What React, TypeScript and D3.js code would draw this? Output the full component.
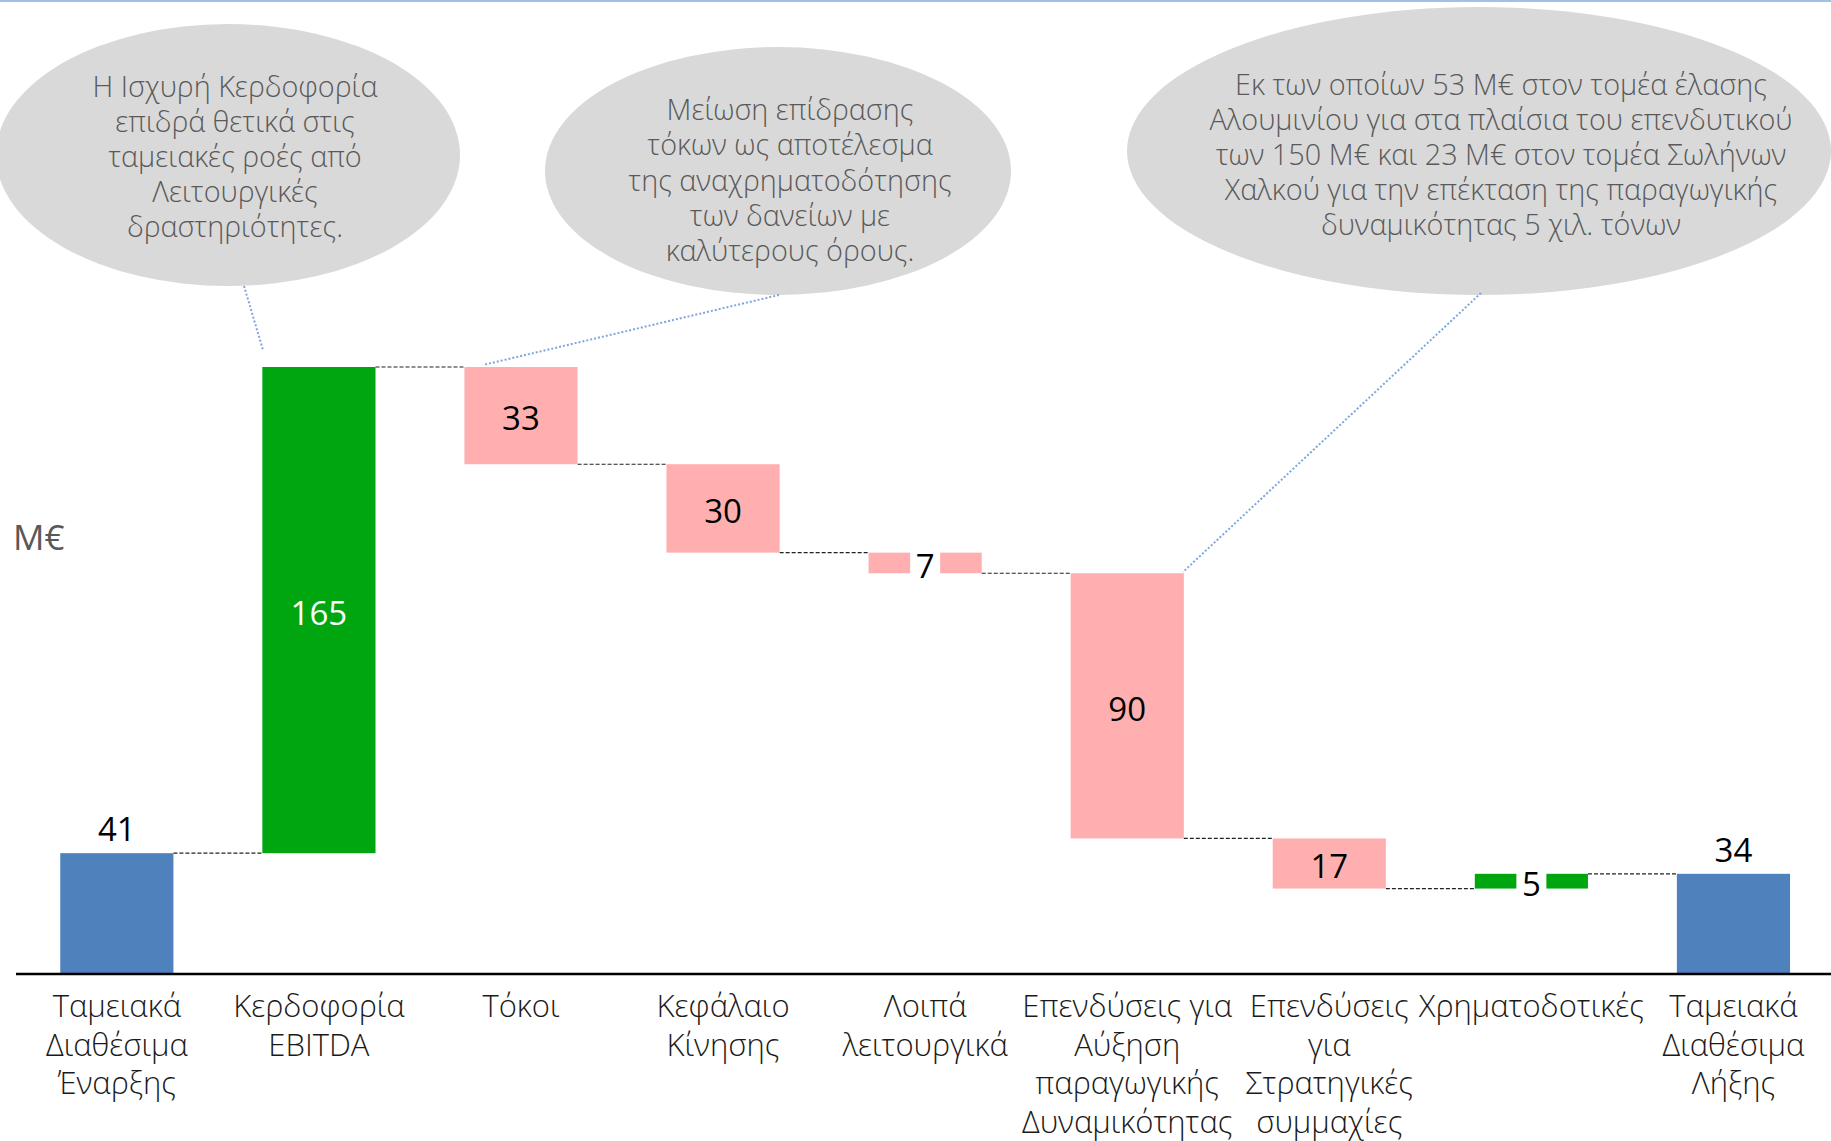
import React from "react";
import * as d3 from "d3";

const categories: string[][] = [
  ["Ταμειακά", "Διαθέσιμα", "Έναρξης"],
  ["Κερδοφορία", "EBITDA"],
  ["Τόκοι"],
  ["Κεφάλαιο", "Κίνησης"],
  ["Λοιπά", "λειτουργικά"],
  ["Επενδύσεις για", "Αύξηση", "παραγωγικής", "Δυναμικότητας"],
  ["Επενδύσεις", "για", "Στρατηγικές", "συμμαχίες"],
  ["Χρηματοδοτικές"],
  ["Ταμειακά", "Διαθέσιμα", "Λήξης"],
];
const values: number[] = [41, 165, -33, -30, -7, -90, -17, 5, 34];
const kinds: string[] = ["total", "delta", "delta", "delta", "delta", "delta", "delta", "delta", "total"];
const unitLabel = "Μ€";

const callout1: string[] = [
  "Η Ισχυρή Κερδοφορία",
  "επιδρά θετικά στις",
  "ταμειακές ροές από",
  "Λειτουργικές",
  "δραστηριότητες.",
];
const callout2: string[] = [
  "Μείωση επίδρασης",
  "τόκων ως αποτέλεσμα",
  "της αναχρηματοδότησης",
  "των δανείων με",
  "καλύτερους όρους.",
];
const callout3: string[] = [
  "Εκ των οποίων 53 Μ€ στον τομέα έλασης",
  "Αλουμινίου για στα πλαίσια του επενδυτικού",
  "των 150 Μ€ και 23 Μ€ στον τομέα Σωλήνων",
  "Χαλκού για την επέκταση της παραγωγικής",
  "δυναμικότητας 5 χιλ. τόνων",
];

const W = 1831;
const H = 1141;
const BLUE = "#4F81BD";
const GREEN = "#00A60F";
const PINK = "#FFAFAF";
const ELLIPSE = "#D9D9D9";
const CALLOUT_TEXT = "#595959";
const DOT = "#7EA6DE";
const FONT = "'Open Sans', 'Noto Sans', sans-serif";

export default function App() {
  const idx = categories.map((_, i) => String(i));
  const x = d3
    .scaleBand<string>()
    .domain(idx)
    .range([15.8, 1834.5])
    .paddingInner(0.44)
    .paddingOuter(0.22);
  const y = d3.scaleLinear().domain([0, 206]).range([974, 367]);
  const bw = x.bandwidth();

  let run = 0;
  const bars = values.map((v, i) => {
    let y0: number, y1: number, fill: string;
    if (kinds[i] === "total") {
      y0 = 0;
      y1 = v;
      run = v;
      fill = BLUE;
    } else {
      y0 = run;
      y1 = run + v;
      run = y1;
      fill = v >= 0 ? GREEN : PINK;
    }
    return { i, v, lo: Math.min(y0, y1), hi: Math.max(y0, y1), end: y1, fill, kind: kinds[i] };
  });

  const fontSize = 33;

  return (
    <svg
      width={W}
      height={H}
      style={{ position: "absolute", left: 0, top: 0, background: "#fff" }}
      fontFamily={FONT}
    >
      <line x1={0} x2={W} y1={1} y2={1} stroke="#9DC3E6" strokeWidth={2} />

      <ellipse cx={228} cy={155} rx={232} ry={131} fill={ELLIPSE} />
      <ellipse cx={778} cy={171} rx={233} ry={124} fill={ELLIPSE} />
      <ellipse cx={1479} cy={151} rx={352} ry={144} fill={ELLIPSE} />
      <line x1={244} y1={286} x2={263} y2={350} stroke={DOT} strokeWidth={2} strokeDasharray="2 2" />
      <line x1={779} y1={295} x2={483} y2={365} stroke={DOT} strokeWidth={2} strokeDasharray="2 2" />
      <line x1={1481} y1={293} x2={1183} y2={572} stroke={DOT} strokeWidth={2} strokeDasharray="2 2" />
      <g fill={CALLOUT_TEXT} fontSize={28.8} fontWeight={300} textAnchor="middle">
        {callout1.map((t, k) => (
          <text key={k} x={235} y={97 + k * 35}>{t}</text>
        ))}
        {callout2.map((t, k) => (
          <text key={k} x={790} y={120 + k * 35.3}>{t}</text>
        ))}
        {callout3.map((t, k) => (
          <text key={k} x={1501} y={95 + k * 35}>{t}</text>
        ))}
      </g>

      {bars.slice(0, -1).map((b, i) => (
        <line
          key={i}
          x1={(x(String(i)) as number) + bw}
          x2={x(String(i + 1)) as number}
          y1={y(b.end)}
          y2={y(b.end)}
          stroke="#222"
          strokeWidth={1.2}
          strokeDasharray="4 2"
        />
      ))}

      {bars.map((b) => {
        const bx = x(String(b.i)) as number;
        const top = y(b.hi);
        const h = y(b.lo) - y(b.hi);
        const small = h < 25;
        const cx = bx + bw / 2;
        const label = String(Math.abs(b.v));
        return (
          <g key={b.i}>
            <rect x={bx} y={top} width={bw} height={h} fill={b.fill} />
            {small && <rect x={cx - 15} y={top - 2} width={30} height={h + 4} fill="#fff" />}
            {b.kind === "total" ? (
              <text x={cx} y={top - 12} textAnchor="middle" fontSize={fontSize} fill="#000">
                {label}
              </text>
            ) : (
              <text
                x={cx}
                y={top + h / 2}
                dy="0.45em"
                textAnchor="middle"
                fontSize={fontSize}
                fill={b.fill === GREEN && !small ? "#fff" : "#000"}
              >
                {label}
              </text>
            )}
          </g>
        );
      })}

      <line x1={16} x2={W} y1={y(0)} y2={y(0)} stroke="#000" strokeWidth={2.5} />

      <g fontSize={31} fontWeight={300} fill="#1a1a1a" textAnchor="middle">
        {categories.map((lines, i) => (
          <text key={i} x={(x(String(i)) as number) + bw / 2}>
            {lines.map((l, k) => (
              <tspan key={k} x={(x(String(i)) as number) + bw / 2} y={1017 + k * 38.5}>
                {l}
              </tspan>
            ))}
          </text>
        ))}
      </g>

      <text x={13} y={550} fontSize={35} fill={CALLOUT_TEXT}>{unitLabel}</text>
    </svg>
  );
}
